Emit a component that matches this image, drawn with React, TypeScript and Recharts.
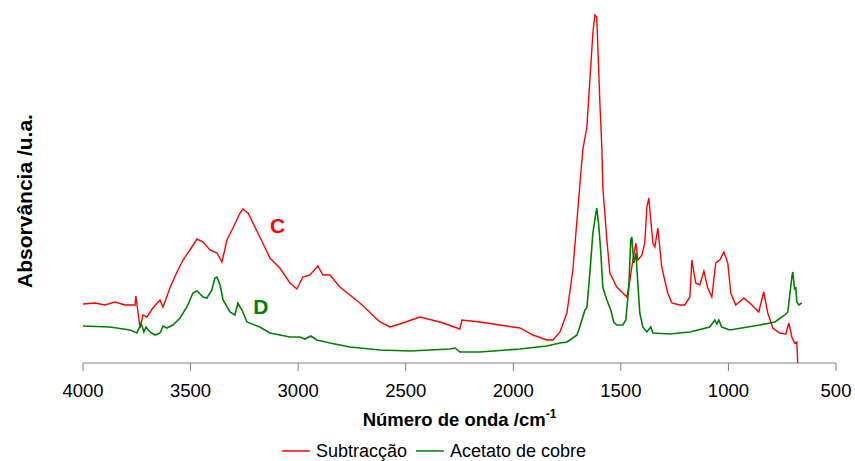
import React from "react";
import { LineChart, Line, XAxis, YAxis, ReferenceDot, Legend } from "recharts";

// wavenumber (cm-1), absorbance (arbitrary units, 0..350)
const subtraccao: [number, number][] = [
  [4000, 59], [3944, 60], [3898, 58], [3851, 61], [3805, 58], [3758, 58], [3754, 67],
  [3735, 35], [3721, 48], [3703, 46], [3675, 55], [3642, 63], [3628, 56], [3596, 75],
  [3563, 91], [3535, 103], [3503, 113], [3470, 124], [3442, 121], [3410, 113], [3377, 110],
  [3354, 101], [3331, 123], [3303, 135], [3270, 150], [3257, 154], [3233, 150], [3178, 126],
  [3131, 105], [3085, 95], [3038, 80], [3006, 74], [2978, 86], [2945, 88], [2908, 97],
  [2885, 88], [2852, 88], [2806, 76], [2713, 60], [2620, 41], [2573, 36], [2527, 39],
  [2434, 46], [2341, 41], [2248, 34], [2239, 43], [2155, 41], [2062, 38], [1969, 35],
  [1909, 28], [1844, 23], [1816, 23], [1783, 31], [1751, 50], [1723, 93], [1704, 143],
  [1677, 213], [1658, 236], [1644, 283], [1630, 330], [1621, 348], [1612, 346], [1598, 263],
  [1588, 213], [1584, 176], [1565, 123], [1551, 90], [1519, 76], [1491, 70], [1472, 66],
  [1458, 83], [1444, 103], [1430, 120], [1421, 103], [1402, 108], [1389, 120], [1379, 156],
  [1370, 165], [1361, 143], [1351, 120], [1342, 116], [1328, 135], [1310, 96], [1296, 83],
  [1282, 70], [1263, 60], [1226, 58], [1203, 58], [1179, 66], [1170, 103], [1152, 80],
  [1133, 78], [1114, 92], [1096, 75], [1077, 66], [1059, 100], [1040, 103], [1021, 111],
  [1003, 100], [989, 70], [966, 58], [928, 65], [891, 58], [859, 51], [836, 71], [817, 50],
  [794, 35], [761, 30], [733, 29], [719, 40], [705, 26], [692, 20], [682, 21], [678, 0],
];

const acetato: [number, number][] = [
  [4000, 37], [3875, 36], [3782, 33], [3749, 30], [3730, 40], [3717, 31], [3707, 36],
  [3689, 31], [3665, 28], [3642, 30], [3628, 37], [3610, 35], [3582, 38], [3549, 45],
  [3517, 56], [3489, 70], [3470, 72], [3442, 66], [3424, 65], [3401, 73], [3387, 85],
  [3377, 86], [3363, 78], [3349, 63], [3317, 51], [3294, 48], [3280, 60], [3261, 53],
  [3238, 41], [3178, 36], [3131, 30], [3085, 28], [3038, 26], [2992, 26], [2968, 24],
  [2941, 27], [2913, 23], [2852, 20], [2759, 16], [2620, 13], [2480, 12], [2295, 14],
  [2271, 15], [2248, 11], [2155, 11], [1969, 14], [1844, 17], [1783, 20], [1751, 21],
  [1723, 25], [1704, 28], [1691, 36], [1667, 53], [1658, 55], [1644, 90], [1630, 130],
  [1616, 150], [1612, 155], [1602, 136], [1593, 110], [1584, 76], [1565, 63], [1547, 53],
  [1533, 41], [1519, 38], [1491, 38], [1477, 43], [1463, 76], [1454, 123], [1449, 126],
  [1440, 100], [1430, 110], [1426, 96], [1412, 50], [1398, 36], [1379, 31], [1361, 36],
  [1351, 30], [1272, 29], [1179, 31], [1087, 36], [1063, 43], [1054, 39], [1045, 43],
  [1031, 36], [994, 33], [854, 38], [784, 41], [738, 48], [724, 51], [715, 68], [705, 86],
  [701, 91], [692, 73], [687, 76], [682, 61], [673, 58], [659, 60],
];

const xTicks = [4000, 3500, 3000, 2500, 2000, 1500, 1000, 500];

const seriesNames = ["Subtracção", "Acetato de cobre"];
const seriesColors = ["#ff0000", "#008000"];

const FONT = "'Liberation Sans', Arial, sans-serif";

const toRows = (pts: [number, number][]) => pts.map(([wn, abs]) => ({ wn, abs }));

const LegendBox = () => (
  <div
    style={{
      display: "flex",
      justifyContent: "center",
      alignItems: "center",
      height: 20,
      paddingLeft: 32,
      fontFamily: FONT,
      fontSize: 18,
      color: "#000",
    }}
  >
    {seriesNames.map((name, i) => (
      <div key={name} style={{ display: "flex", alignItems: "center", marginLeft: i ? 9 : 0 }}>
        <span style={{ display: "inline-block", width: 28, height: 2, background: seriesColors[i], opacity: 0.75 }} />
        <span style={{ marginLeft: 6, lineHeight: "20px" }}>{name}</span>
      </div>
    ))}
  </div>
);

const curveLabel = (text: string, color: string) => (props: any) => {
  const { viewBox } = props;
  const x = viewBox.x + (viewBox.width || 0) / 2;
  const y = viewBox.y + (viewBox.height || 0) / 2;
  return (
    <text x={x} y={y} textAnchor="middle" dominantBaseline="central" fill={color}
      fontFamily={FONT} fontSize={21} fontWeight="bold">
      {text}
    </text>
  );
};

export default function App() {
  return (
    <div style={{ position: "absolute", left: 0, top: 0 }}>
      <LineChart width={855} height={461} margin={{ top: 13, right: 19, left: 0, bottom: 0 }}>
        <XAxis
          type="number"
          dataKey="wn"
          domain={[500, 4000]}
          reversed
          ticks={xTicks}
          tickSize={8}
          tickMargin={13}
          height={78}
          stroke="#808080"
          tick={{ fill: "#000", fontFamily: FONT, fontSize: 18.5 }}
          label={{
            content: () => (
              <text x={459.5} y={426} textAnchor="middle" fontFamily={FONT} fontSize={18.5} fontWeight="bold" fill="#000">
                Número de onda /cm
                <tspan fontSize={12} dy={-8}>-1</tspan>
              </text>
            ),
          }}
        />
        <YAxis
          type="number"
          domain={[0, 350]}
          allowDataOverflow
          width={83}
          tick={false}
          axisLine={false}
          tickLine={false}
          label={{
            content: () => (
              <text x={24} y={201} transform="rotate(-90, 24, 201)" textAnchor="middle" dominantBaseline="central"
                fontFamily={FONT} fontSize={21} fontWeight="bold" fill="#000">
                Absorvância /u.a.
              </text>
            ),
          }}
        />
        <Legend verticalAlign="bottom" content={() => <LegendBox />} />
        <Line data={toRows(subtraccao)} dataKey="abs" name={seriesNames[0]} stroke={seriesColors[0]}
          strokeWidth={1.4} dot={false} isAnimationActive={false} type="linear" />
        <Line data={toRows(acetato)} dataKey="abs" name={seriesNames[1]} stroke={seriesColors[1]}
          strokeWidth={1.6} dot={false} isAnimationActive={false} type="linear" />
        <ReferenceDot x={3096} y={138} r={0} fill="none" stroke="none" label={{ content: curveLabel("C", "#ff0000") }} />
        <ReferenceDot x={3173} y={57} r={0} fill="none" stroke="none" label={{ content: curveLabel("D", "#008000") }} />
      </LineChart>
    </div>
  );
}
